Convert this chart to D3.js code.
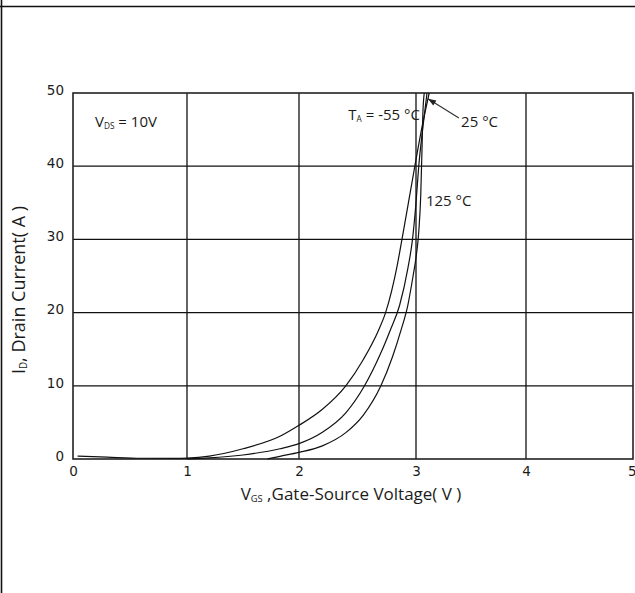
<!DOCTYPE html>
<html><head><meta charset="utf-8">
<script src="https://cdn.jsdelivr.net/npm/d3@7"></script>
<style>html,body{margin:0;padding:0;background:#fff;}svg{display:block;}</style>
</head><body>
<svg id="chart" width="635" height="593"></svg>
<script>
// ---- data ----
const xTicks = [0, 1, 2, 3, 4, 5];           // V_GS (V)
const yTicks = [0, 10, 20, 30, 40, 50];      // I_D (A)
// [V_GS, I_D] points
const curve125     = [[0.04,0.4],[0.3,0.25],[0.6,0.1],[0.9,0.08],[1.0,0.12],[1.2,0.4],[1.5,1.4],[1.83,3.1],[2.0,4.6],[2.2,6.8],[2.4,10],[2.55,13.6],[2.68,17.6],[2.74,20],[2.84,26.5],[2.88,30],[2.935,35],[2.99,40],[3.05,45],[3.12,50]];
const curve25      = [[1.0,0.02],[1.2,0.15],[1.5,0.55],[1.83,1.4],[2.0,2.1],[2.2,3.65],[2.4,6.3],[2.56,10],[2.7,14.5],[2.78,17.6],[2.86,21],[2.93,26],[2.97,30],[3.0,35],[3.025,40],[3.06,45],[3.1,50]];
const curveMinus55 = [[1.72,0.02],[1.83,0.37],[2.0,0.9],[2.2,1.8],[2.4,3.6],[2.55,6.0],[2.7,10],[2.8,14],[2.87,17.5],[2.93,21],[2.975,25],[3.0,27.5],[3.025,31],[3.043,36],[3.054,42],[3.062,47],[3.075,50]];
const seriesNames = ["-55 °C", "25 °C", "125 °C"];

// ---- layout ----
const svg = d3.select("#chart");
const x = d3.scaleLinear().domain(xTicks).range([73, 187, 299, 416, 526, 633]);
const y = d3.scaleLinear().domain([0, 50]).range([459, 93]);
const ink = "#1b1b1b";

// outer page frame (top and left rules)
svg.append("line").attr("x1",0).attr("x2",635).attr("y1",6.5).attr("y2",6.5).attr("stroke","#111").attr("stroke-width",1.4);
svg.append("line").attr("x1",1.5).attr("x2",1.5).attr("y1",0).attr("y2",593).attr("stroke","#111").attr("stroke-width",1.6);

// grid
const g = svg.append("g");
g.selectAll("line.vg").data(xTicks.slice(1,-1)).join("line")
  .attr("x1", d => x(d)).attr("x2", d => x(d)).attr("y1", y(50)).attr("y2", y(0))
  .attr("stroke", "#111").attr("stroke-width", 1.3);
g.selectAll("line.hg").data(yTicks.slice(1,-1)).join("line")
  .attr("x1", x(0)).attr("x2", x(5)).attr("y1", d => y(d)).attr("y2", d => y(d))
  .attr("stroke", "#111").attr("stroke-width", 1.3);
g.append("rect").attr("x", x(0)).attr("y", y(50)).attr("width", x(5)-x(0)).attr("height", y(0)-y(50))
  .attr("fill","none").attr("stroke","#222").attr("stroke-width",1.6);

// axes (labels only)
const xAxis = svg.append("g").attr("transform", `translate(0,${y(0)})`)
  .call(d3.axisBottom(x).tickValues(xTicks).tickSize(0).tickPadding(7).tickFormat(d3.format("d")));
const yAxis = svg.append("g").attr("transform", `translate(${x(0)},0)`)
  .call(d3.axisLeft(y).tickValues(yTicks).tickSize(0).tickPadding(9).tickFormat(d3.format("d")));
[xAxis, yAxis].forEach(a => {
  a.select(".domain").remove();
  a.selectAll("text").attr("font-family","DejaVu Sans, Verdana, sans-serif").attr("font-size",13.5).attr("fill",ink);
});
yAxis.selectAll("text").attr("dy","0.1em");
xAxis.selectAll("text").filter(d => d === 5).attr("text-anchor","end").attr("dx", 3);

// curves
const line = d3.line().x(d => x(d[0])).y(d => y(d[1])).curve(d3.curveMonotoneX);
svg.append("g").selectAll("path").data([curveMinus55, curve25, curve125]).join("path")
  .attr("d", line).attr("fill","none").attr("stroke","#111").attr("stroke-width",1.2);

// text helpers
const font = "Open Sans, Liberation Sans, sans-serif";
function label(px, py, parts, size, anchor) {
  const t = svg.append("text").attr("x", px).attr("y", py).attr("font-family", font)
    .attr("font-size", size).attr("fill", ink).attr("text-anchor", anchor || "start");
  parts.forEach(p => {
    const s = t.append("tspan").text(p.t);
    if (p.sub) s.attr("font-size", size*0.55).attr("dy", 2);
    if (p.back) s.attr("dy", -2);
  });
  return t;
}

// annotations
label(x(0.193), y(45.4), [{t:"V"},{t:"DS",sub:true},{t:" = 10V",back:true}], 15);
label(x(3.036), y(46.3), [{t:"T"},{t:"A",sub:true},{t:" = -55 °C",back:true}], 15, "end");
label(x(3.41), y(45.3), [{t:seriesNames[1]}], 15);
label(x(3.09), y(34.6), [{t:seriesNames[2]}], 15);

// arrow for 25 °C
const ax1 = x(3.39), ay1 = y(46.6), ax2 = x(3.109), ay2 = y(49.2);
svg.append("line").attr("x1",ax1).attr("y1",ay1).attr("x2",ax2).attr("y2",ay2).attr("stroke","#333").attr("stroke-width",1.2);
const ang = Math.atan2(ay2-ay1, ax2-ax1), L = 8, W = 3;
const p1 = [ax2 - L*Math.cos(ang) + W*Math.sin(ang), ay2 - L*Math.sin(ang) - W*Math.cos(ang)];
const p2 = [ax2 - L*Math.cos(ang) - W*Math.sin(ang), ay2 - L*Math.sin(ang) + W*Math.cos(ang)];
svg.append("path").attr("d", `M${ax2},${ay2}L${p1}L${p2}Z`).attr("fill","#222");

// axis titles
label(351, 500, [{t:"V"},{t:"GS",sub:true},{t:" ,Gate-Source Voltage( V )",back:true}], 17, "middle");
label(0, 0, [{t:"I"},{t:"D",sub:true},{t:", Drain Current( A )",back:true}], 18, "middle")
  .attr("transform", "translate(25,290) rotate(-90)");
</script>
</body></html>
